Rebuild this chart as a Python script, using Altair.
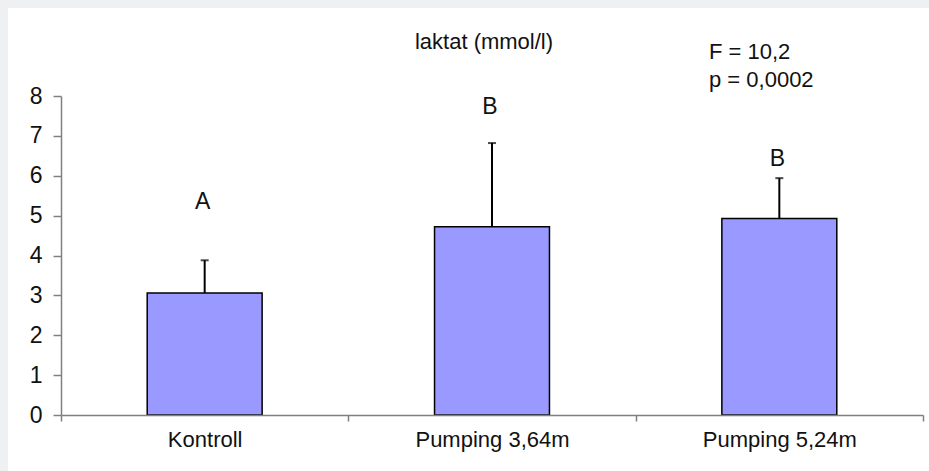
import altair as alt
import pandas as pd

categories = ["Kontroll", "Pumping 3,64m", "Pumping 5,24m"]
means = [3.06, 4.72, 4.93]
sds = [0.82, 2.10, 1.01]
letters = ["A", "B", "B"]
letter_heights = [5.34, 7.72, 6.42]
y_ticks = [0, 1, 2, 3, 4, 5, 6, 7, 8]
title_text = "laktat (mmol/l)"
stats_lines = ["F = 10,2", "p = 0,0002"]

df = pd.DataFrame({
    "cat": categories,
    "mean": means,
    "top": [m + s for m, s in zip(means, sds)],
    "letter": letters,
    "lh": letter_heights,
})

FONT = "Liberation Sans"
FS = 22
W, H = 862, 319
LEFT, TOP = 61, 96

xaxis = alt.Axis(tickBand="extent", labelAngle=0, labelFont=FONT,
                 labelFontSize=FS, labelColor="#111", labelPadding=8,
                 tickSize=6, tickColor="#808080", domainColor="#808080",
                 domainWidth=1.5, tickWidth=1.5, grid=False, zindex=1,
                 labelOverlap=False)
xscale = alt.Scale(paddingInner=0, paddingOuter=0)
yscale = alt.Scale(domain=[0, 8], nice=False)
yaxis = alt.Axis(values=y_ticks, labelFont=FONT, labelFontSize=23, labelColor="#111",
                 labelPadding=11, tickSize=8, tickColor="#808080", domainColor="#808080",
                 domainWidth=1.5, tickWidth=1.5, grid=False, format="d", zindex=1,
                 labelOverlap=False, labelBound=False, labelFlush=False)


def X():
    return alt.X("cat:N", sort=categories, title=None, scale=xscale, axis=xaxis)


def Y(field):
    return alt.Y(field, scale=yscale, axis=yaxis, title=None)


base = alt.Chart(df)

white_bg = base.mark_rect(color="white").encode(
    x=alt.value(8 - LEFT), x2=alt.value(929 - LEFT),
    y=alt.value(8 - TOP), y2=alt.value(471 - TOP))

bars = base.mark_bar(color="#9999ff", stroke="black", strokeWidth=1.5,
                     width=alt.RelativeBandSize(0.4)).encode(
    x=X(), y=Y("mean:Q"))

err = base.mark_rule(color="black", strokeWidth=2).encode(
    x=X(), y=Y("mean:Q"), y2="top:Q")

cap = base.mark_tick(color="black", thickness=2, size=8, orient="horizontal").encode(
    x=X(), y=Y("top:Q"))

let = base.mark_text(font=FONT, fontSize=23, color="#111", baseline="middle", dx=-2).encode(
    x=X(), y=Y("lh:Q"), text="letter:N")

title = alt.Chart(pd.DataFrame({"t": [title_text]})).mark_text(
    font=FONT, fontSize=FS, color="#111", align="center", baseline="middle").encode(
    x=alt.value(484 - LEFT), y=alt.value(42 - TOP), text="t:N")

stats = alt.Chart(pd.DataFrame({"t": [stats_lines]})).mark_text(
    font=FONT, fontSize=FS, color="#111", align="left", baseline="middle",
    lineHeight=28).encode(
    x=alt.value(709 - LEFT), y=alt.value(52 - TOP), text="t")

chart = alt.layer(white_bg, bars, err, cap, let, title, stats).properties(
    width=W, height=H,
    autosize=alt.AutoSizeParams(type="none"),
    padding={"left": LEFT, "top": TOP, "right": 929 - LEFT - W, "bottom": 471 - TOP - H},
    background="#eef0f2",
).configure_view(stroke=None)

chart.save("out.html", embed_options={"renderer": "svg", "actions": False})
